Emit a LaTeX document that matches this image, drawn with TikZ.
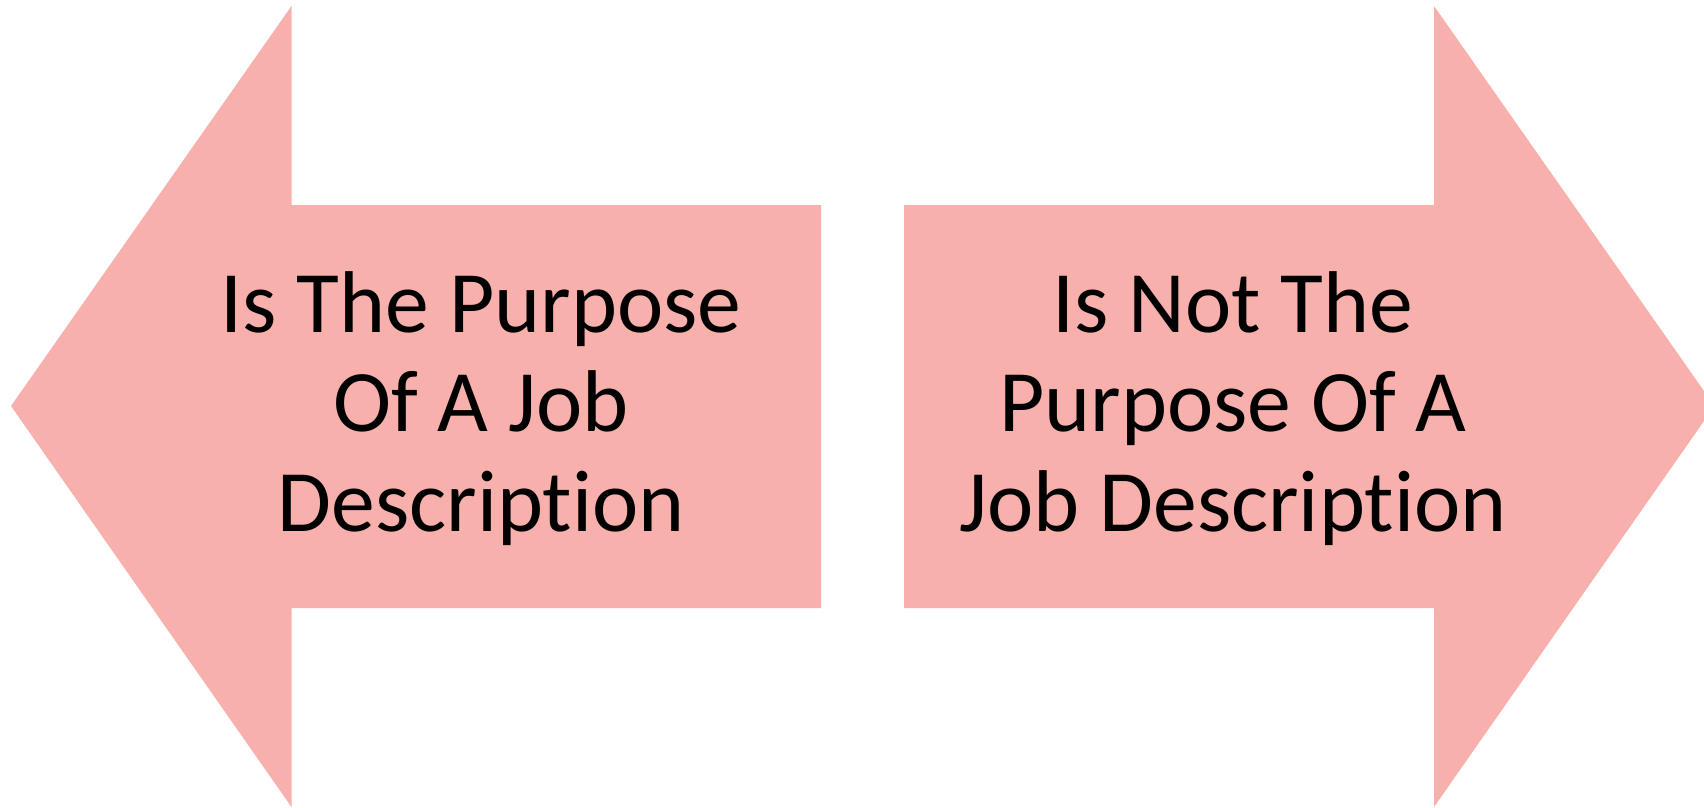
\documentclass[tikz,border=0pt]{standalone}
\usepackage{fontspec}
\setmainfont{Carlito}[Ligatures=NoCommon]
\newfontfamily\arrowfont{Carlito}[Ligatures=NoCommon]
\definecolor{arrowfill}{RGB}{247,176,171}
\begin{document}
\begin{tikzpicture}[x=1bp,y=-1bp,
  arrowshape/.style={fill=arrowfill,draw=none},
  arrowtext/.style={font=\arrowfont\fontsize{88}{100}\selectfont, anchor=base, inner sep=0pt, align=center, text=black}]
\useasboundingbox (0,0) rectangle (1704,808);
\clip (0,0) rectangle (1704,808);
\fill[arrowshape] (11,406) -- (291.5,6) -- (291.5,205) -- (821,205) -- (821,608) -- (291.5,608) -- (291.5,807) -- cycle;
\fill[arrowshape] (904,205) -- (1434,205) -- (1434,6) -- (1714.5,406) -- (1434,807) -- (1434,608) -- (904,608) -- cycle;
\node[arrowtext] (lefttext) at (481,531.5) {Is The Purpose\\Of A Job\\Description};
\node[arrowtext] (righttext) at (1233,531.5) {Is Not The\\Purpose Of A\\Job Description};
\end{tikzpicture}
\end{document}
